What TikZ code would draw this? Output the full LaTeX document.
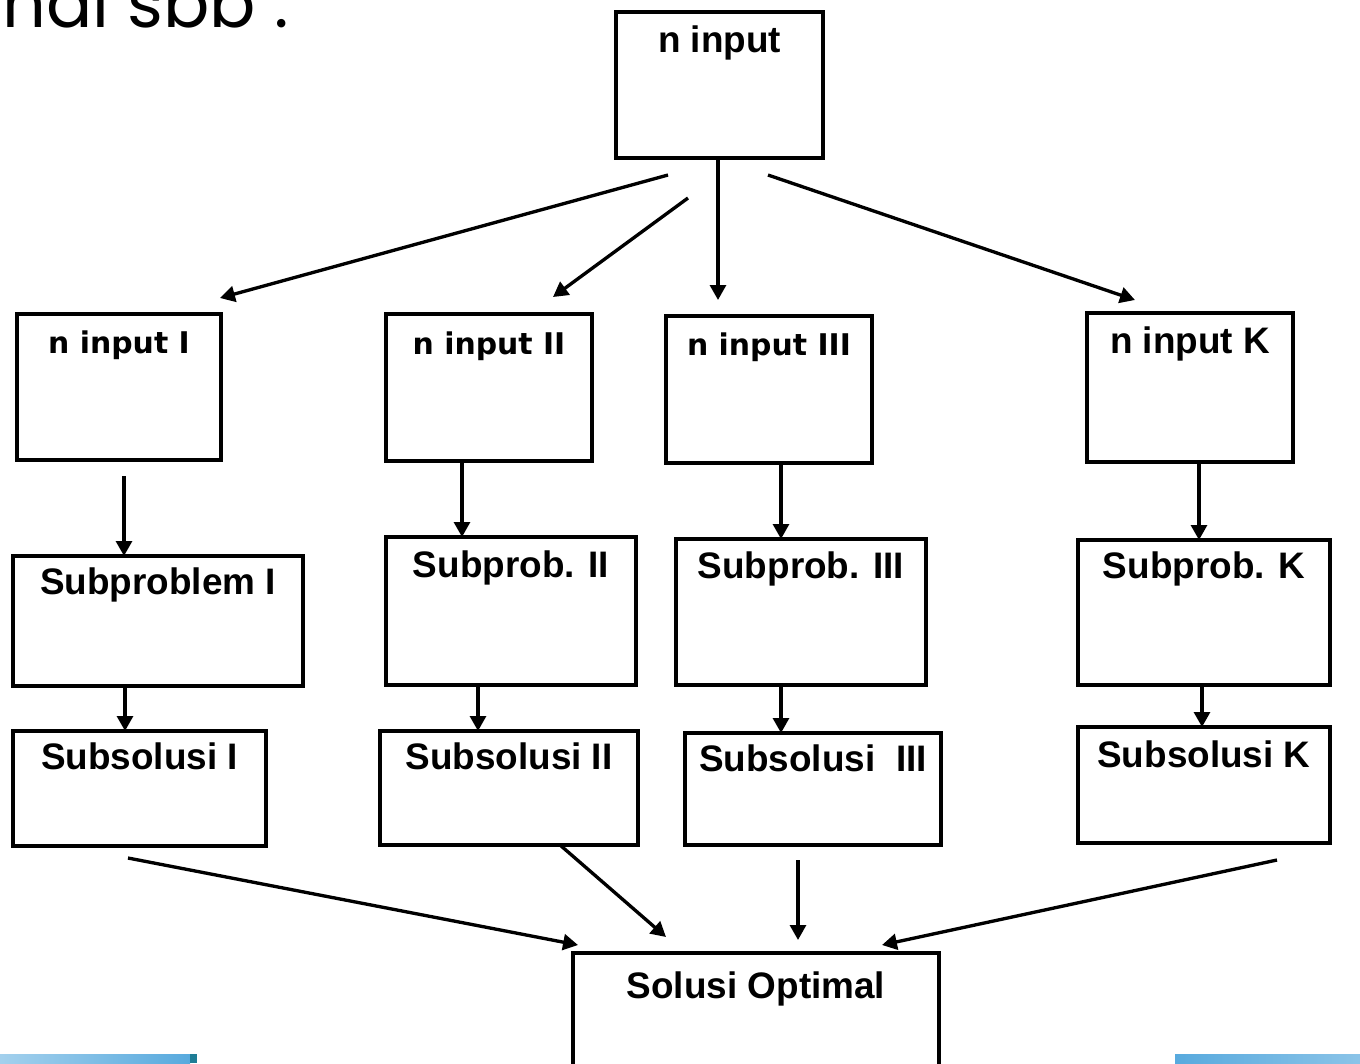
\documentclass[tikz,border=0pt]{standalone}
\usepackage{fontspec}
\setmainfont{Liberation Sans}
\newfontfamily\dvfont{DejaVu Sans}
\newfontfamily\gothfont{Poppins}
\usetikzlibrary{arrows.meta}
\definecolor{barblue}{RGB}{88,170,222}
\definecolor{barteal}{RGB}{30,125,150}

\begin{document}
\begin{tikzpicture}[
        x = 0.02cm, y = -0.02cm,
      box/.style = {rectangle, draw, line width=2.2pt, inner sep=0pt, outer sep=0pt,
                    anchor=north west, font=\fontsize{21}{25}\selectfont\bfseries},
     dbox/.style = {box, font=\fontsize{17}{20}\dvfont\bfseries},
     dims/.style n args = {3}{minimum width=#1cm, text height=#2cm, text depth=#3cm},
      arr/.style = {line width=1.9pt, -{Triangle[length=8.5pt,width=9pt]}}
                        ]
\useasboundingbox (0,0) rectangle (1360,1063);
% heading cut off by the page
\node (head) [anchor=base west, inner sep=0pt, font=\fontsize{39}{44}\gothfont] at (2,27) {hal sbb :};
% boxes
\node (top)  [box, dims={4.14}{.80}{2.12}] at (616,12)  {n input};
\node (in1)  [dbox, dims={4.08}{.78}{2.14}] at (17,314)  {n input I};
\node (in2)  [dbox, dims={4.12}{.80}{2.14}] at (386,314) {n input II};
\node (in3)  [dbox, dims={4.12}{.78}{2.16}] at (666,316) {n input III};
\node (ink)  [box, dims={4.12}{.80}{2.18}] at (1087,313) {n input K};
\node (sub1) [box, dims={5.80}{.76}{1.84}] at (13,556)   {Subproblem I};
\node (sub2) [box, dims={5.00}{.80}{2.16}] at (386,537)  {Subprob. II};
\node (sub3) [box, dims={5.00}{.78}{2.14}] at (676,539)  {Subprob. III};
\node (subk) [box, dims={5.04}{.76}{2.14}] at (1078,540) {Subprob. K};
\node (sol1) [box, dims={5.06}{.76}{1.54}] at (13,731)   {Subsolusi I};
\node (sol2) [box, dims={5.16}{.76}{1.52}] at (380,731)  {Subsolusi II};
\node (sol3) [box, dims={5.12}{.76}{1.48}] at (685,733)  {Subsolusi\ \ III};
\node (solk) [box, dims={5.04}{.80}{1.52}] at (1078,727) {Subsolusi K};
\node (opt)  [box, dims={7.32}{.90}{2.80}] at (573,953)  {Solusi Optimal};
% loose arrow ends
\coordinate (a1) at (668,175);  \coordinate (a2) at (220,298);
\coordinate (b1) at (688,198);  \coordinate (b2) at (553,297);
\coordinate (c2) at (718,300);
\coordinate (d1) at (768,175);  \coordinate (d2) at (1135,300);
\coordinate (e1) at (124,476);
\coordinate (m1) at (128,858);  \coordinate (m2) at (578,945);
\coordinate (n2) at (666,937);
\coordinate (o1) at (798,860);  \coordinate (o2) at (798,940);
\coordinate (p1) at (1277,860); \coordinate (p2) at (882,945);
% split
\draw[arr] (a1) -- (a2);
\draw[arr] (b1) -- (b2);
\draw[arr] (718,0 |- top.south) -- (c2);
\draw[arr] (d1) -- (d2);
% columns
\draw[arr] (e1) -- (124,0 |- sub1.north);
\draw[arr] (462,0 |- in2.south) -- (462,0 |- sub2.north);
\draw[arr] (781,0 |- in3.south) -- (781,0 |- sub3.north);
\draw[arr] (1199,0 |- ink.south) -- (1199,0 |- subk.north);
\draw[arr] (125,0 |- sub1.south) -- (125,0 |- sol1.north);
\draw[arr] (478,0 |- sub2.south) -- (478,0 |- sol2.north);
\draw[arr] (781,0 |- sub3.south) -- (781,0 |- sol3.north);
\draw[arr] (1202,0 |- subk.south) -- (1202,0 |- solk.north);
% merge
\draw[arr] (m1) -- (m2);
\draw[arr] (560,0 |- sol2.south) -- (n2);
\draw[arr] (o1) -- (o2);
\draw[arr] (p1) -- (p2);
% blue bars at the foot
\shade[left color=barblue!55, right color=barblue] (0,1054) rectangle (190,1063);
\fill[barteal] (190,1054) rectangle (197,1063);
\shade[left color=barblue, right color=barblue!70] (1175,1054) rectangle (1360,1063);
\end{tikzpicture}
\end{document}
